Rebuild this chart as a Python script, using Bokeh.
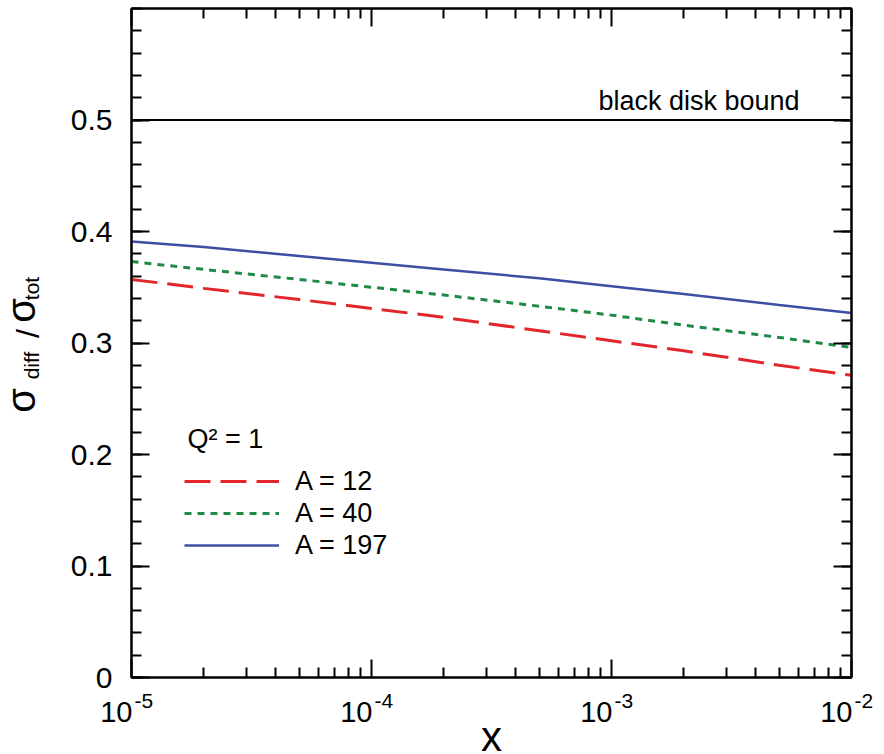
import math
from bokeh.plotting import figure
from bokeh.layouts import row, column
from bokeh.models import (Range1d, FixedTicker, LinearAxis, LogAxis, Label, Span,
                          Legend, LegendItem, CustomJSTickFormatter)
from bokeh.embed import file_html
from bokeh.resources import INLINE

# ---------------- data ----------------
x_vals = [1e-5, 2e-5, 5e-5, 1e-4, 2e-4, 5e-4, 1e-3, 2e-3, 5e-3, 1e-2]
ratio_A12 = [0.357, 0.349, 0.339, 0.331, 0.323, 0.311, 0.302, 0.293, 0.280, 0.271]
ratio_A40 = [0.373, 0.366, 0.357, 0.350, 0.343, 0.333, 0.325, 0.316, 0.305, 0.296]
ratio_A197 = [0.391, 0.386, 0.378, 0.372, 0.366, 0.358, 0.351, 0.344, 0.334, 0.327]
series_labels = ["A = 12", "A = 40", "A = 197"]
black_disk_bound = 0.5

x_major = [1e-5, 1e-4, 1e-3, 1e-2]
x_tick_base = "10"
x_tick_exponents = ["-5", "-4", "-3", "-2"]
x_minor = [m * 10.0 ** e for e in (-5, -4, -3) for m in range(2, 10)]
y_major = [0.0, 0.1, 0.2, 0.3, 0.4, 0.5]
y_minor = [round(i * 0.02, 2) for i in range(31)]

FONT = "Liberation Sans"
MID = 0.31   # em offset from baseline to text middle

# ---------------- layout geometry (pixels) ----------------
W, H = 884, 754
LEFT_W = 60            # strip holding the y-axis title
TOP_H = 689            # height of the row holding the plot
FRAME_L, FRAME_R = 131, 851   # frame edges on the page
FRAME_T, FRAME_B = 8, 677

main_w = W - LEFT_W
p = figure(width=main_w, height=TOP_H, output_backend="svg", toolbar_location=None,
           x_axis_type="log", x_range=Range1d(1e-5, 1e-2), y_range=Range1d(0, 0.6),
           min_border_left=FRAME_L - LEFT_W, min_border_right=main_w - (FRAME_R - LEFT_W),
           min_border_top=FRAME_T, min_border_bottom=TOP_H - FRAME_B,
           background_fill_color="white", border_fill_color="white")
p.grid.visible = False
p.outline_line_color = "black"
p.outline_line_width = 2

xt = FixedTicker(ticks=x_major, minor_ticks=x_minor)
yt = FixedTicker(ticks=y_major, minor_ticks=y_minor)
blank = CustomJSTickFormatter(code="return ''")


def style(ax):
    ax.axis_line_width = 2
    ax.axis_line_color = "black"
    ax.major_tick_in = 18
    ax.major_tick_out = 0
    ax.minor_tick_in = 10
    ax.minor_tick_out = 0
    ax.major_tick_line_width = 2
    ax.minor_tick_line_width = 2
    ax.major_tick_line_color = "black"
    ax.minor_tick_line_color = "black"


p.xaxis.ticker = xt
p.xaxis.formatter = blank
p.xaxis.major_label_standoff = 0
style(p.xaxis[0])
p.yaxis.ticker = yt
p.yaxis.formatter = CustomJSTickFormatter(code="return tick == 0 ? '0' : tick.toFixed(1)")
p.yaxis.major_label_text_font = FONT
p.yaxis.major_label_text_font_size = "30px"
p.yaxis.major_label_text_color = "black"
p.yaxis.major_label_standoff = 19
style(p.yaxis[0])
ra = LinearAxis(ticker=yt, formatter=blank, major_label_standoff=0)
style(ra)
p.add_layout(ra, "right")
ta = LogAxis(ticker=xt, formatter=blank, major_label_standoff=0)
style(ta)
p.add_layout(ta, "above")

# curves
r12 = p.line(x_vals, ratio_A12, line_color="#e3262b", line_width=3, line_dash="26 10")
r40 = p.line(x_vals, ratio_A40, line_color="#1f8a45", line_width=3, line_dash="7 6")
r197 = p.line(x_vals, ratio_A197, line_color="#3d4fa3", line_width=2.5)

p.add_layout(Span(location=black_disk_bound, dimension="width",
                  line_color="black", line_width=2))


def mid_label(x, y_base_page, y_ref, fs, **kw):
    """horizontal label whose baseline sits at page y = y_base_page"""
    return Label(x=x, y=y_ref - (y_base_page - MID * fs), text_font=FONT,
                 text_font_size=f"{fs}px", text_color="black", text_baseline="middle", **kw)


p.add_layout(mid_label(467, 109, FRAME_B, 27, x_units="screen", y_units="screen",
                       text="black disk bound"))

legend = Legend(items=[LegendItem(label=series_labels[0], renderers=[r12]),
                       LegendItem(label=series_labels[1], renderers=[r40]),
                       LegendItem(label=series_labels[2], renderers=[r197])],
                location=(53, 116), padding=0, margin=0, spacing=0,
                glyph_width=95, glyph_height=32, label_height=32,
                label_standoff=16, label_text_font=FONT,
                label_text_font_size="27px", label_text_color="black",
                border_line_alpha=0, background_fill_alpha=0)
p.add_layout(legend)
p.add_layout(mid_label(56, 447, FRAME_B, 27, x_units="screen", y_units="screen",
                       text="Q² = 1"))


def blank_fig(w, h, **kw):
    f = figure(width=w, height=h, output_backend="svg", toolbar_location=None,
               x_axis_location=None, y_axis_location=None, min_border=0,
               outline_line_color=None, background_fill_color="white",
               border_fill_color="white", **kw)
    f.grid.visible = False
    return f


# left strip: y-axis title sigma_diff / sigma_tot (rotated, centred pieces)
lf = blank_fig(LEFT_W, TOP_H, x_range=Range1d(0, LEFT_W), y_range=Range1d(0, TOP_H))
ang = math.pi / 2
for txt, base_x, cy, fs in [("σ", 33, 412, 40), ("diff", 38, 377, 21),
                            ("/", 37, 345, 32), ("σ", 33, 322, 40),
                            ("tot", 38, 300, 21)]:
    lf.add_layout(Label(x=base_x - MID * fs, y=TOP_H - cy, x_units="screen", y_units="screen",
                        text=txt, angle=ang, text_align="center", text_baseline="middle",
                        text_font=FONT, text_font_size=f"{fs}px", text_color="black"))

# bottom strip: x tick labels 10^n and axis title, sharing the log x scale
BOT_H = H - TOP_H
lo = 10 ** (-5 - FRAME_L / 240.0)
hi = 10 ** (-2 + (W - FRAME_R) / 240.0)
bf = blank_fig(W, BOT_H, x_axis_type="log", x_range=Range1d(lo, hi), y_range=Range1d(0, BOT_H))
for xv, ex in zip(x_major, x_tick_exponents):
    bf.add_layout(mid_label(xv, 720, H, 29, x_offset=1, x_units="data", y_units="screen",
                            text=x_tick_base, text_align="right"))
    bf.add_layout(mid_label(xv, 707, H, 21, x_offset=3, x_units="data", y_units="screen",
                            text=ex, text_align="left"))
bf.add_layout(mid_label((FRAME_L + FRAME_R) / 2, 749, H, 42, x_units="screen",
                        y_units="screen", text="x", text_align="center"))

layout = column(row(lf, p), bf)
open("out.html", "w").write(file_html(layout, INLINE))
